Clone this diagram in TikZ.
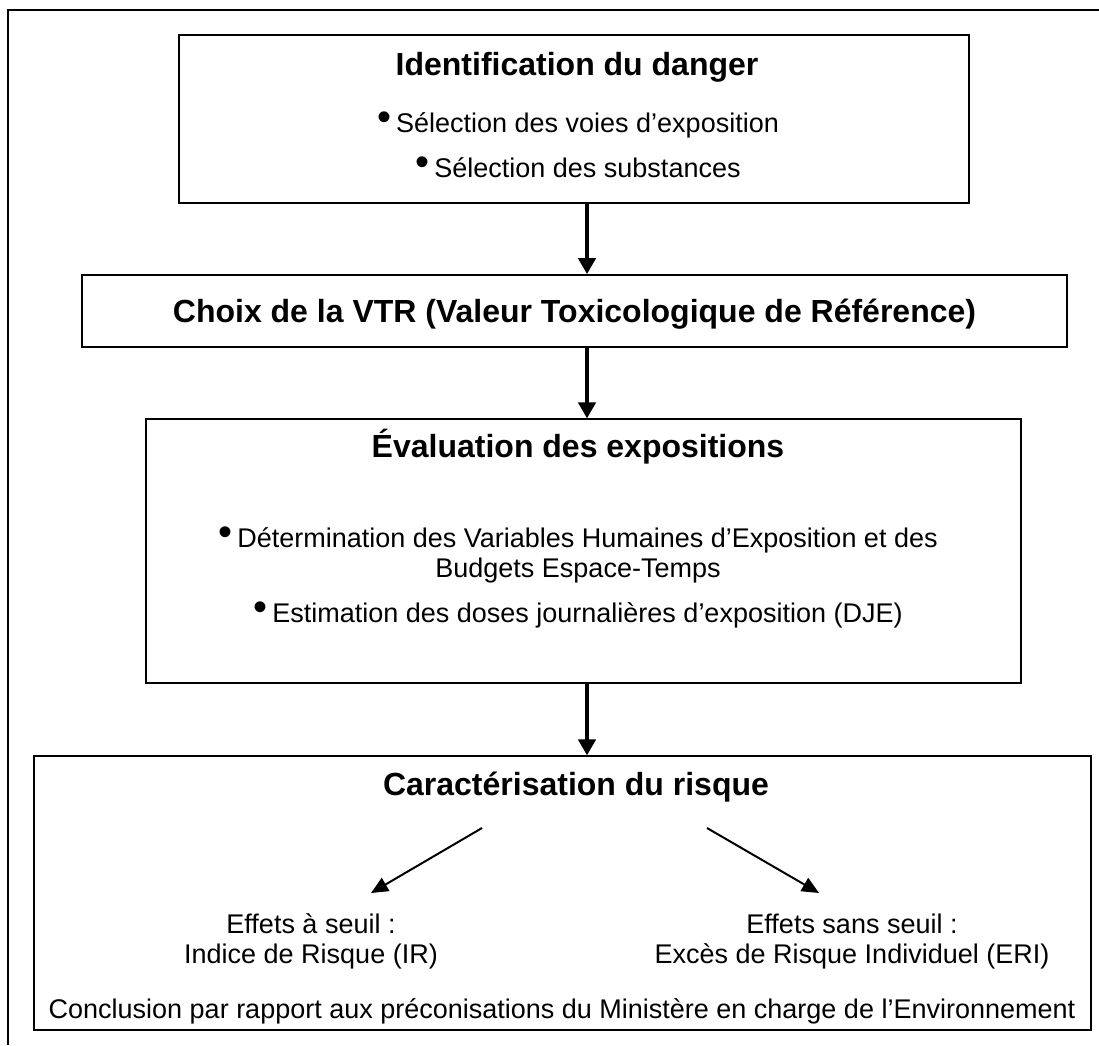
\documentclass[tikz,border=0pt]{standalone}
\usepackage{fontspec}
\setmainfont{Liberation Sans}
\usetikzlibrary{arrows.meta}
\newcommand{\puce}{\raisebox{2pt}{\fontsize{40}{40}\selectfont•}\hspace{5pt}}
\tikzstyle{box}=[draw,line width=1.6pt,inner sep=0pt]
\tikzstyle{thinbox}=[draw,line width=1.1pt,inner sep=0pt]
\tikzstyle{titre}=[anchor=base,inner sep=0pt,font=\fontsize{32}{37}\selectfont\bfseries]
\tikzstyle{txt}=[anchor=base,inner sep=0pt,align=center,font=\fontsize{27}{30}\selectfont]
\tikzstyle{flow}=[line width=4pt,-{Triangle[width=17pt,length=16pt]}]
\tikzstyle{branch}=[line width=2pt,-{Triangle[width=15pt,length=17pt]}]

\begin{document}
\begin{tikzpicture}[x=1pt,y=-1pt]
    \useasboundingbox (0,0) rectangle (1099,1045);
    \draw[line width=1.6pt] (1099,10) -- (8,10) -- (8,1045);
    \node[box,minimum width=790pt,minimum height=168pt] (danger) at (574,119) {};
    \node[box,minimum width=985pt,minimum height=72pt] (vtr) at (574.5,311) {};
    \node[thinbox,minimum width=875pt,minimum height=264pt] (expo) at (583.5,551) {};
    \node[thinbox,minimum width=1057pt,minimum height=274pt] (risque) at (562.5,893) {};
    \node[titre] (tdanger) at (577,75) {Identification du danger};
    \node[txt] (voies) at (578,132) {\puce Sélection des voies d’exposition};
    \node[txt] (subst) at (578,177) {\puce Sélection des substances};
    \node[titre] (tvtr) at (574.5,322) {Choix de la VTR (Valeur Toxicologique de Référence)};
    \node[titre] (texpo) at (578,457) {Évaluation des expositions};
    \node[txt] (vhe) at (578,577) {\puce Détermination des Variables Humaines d’Exposition et des\\Budgets Espace-Temps};
    \node[txt] (dje) at (578,622) {\puce Estimation des doses journalières d’exposition (DJE)};
    \node[titre] (trisque) at (576,795) {Caractérisation du risque};
    \node[txt] (seuil) at (311,963) {Effets à seuil :\\Indice de Risque (IR)};
    \node[txt] (sansseuil) at (852,963) {Effets sans seuil :\\Excès de Risque Individuel (ERI)};
    \node[txt] (concl) at (562,1018) {Conclusion par rapport aux préconisations du Ministère en charge de l’Environnement};
    \coordinate (spine) at (587,0);
    \draw[flow] (danger.south -| spine) -- (vtr.north -| spine);
    \draw[flow] (vtr.south -| spine) -- (expo.north -| spine);
    \draw[flow] (expo.south -| spine) -- (risque.north -| spine);
    \coordinate (g0) at (482,828);
    \coordinate (g1) at (371,893);
    \coordinate (d0) at (707,828);
    \coordinate (d1) at (819,893);
    \draw[branch] (g0) -- (g1);
    \draw[branch] (d0) -- (d1);
\end{tikzpicture}
\end{document}
